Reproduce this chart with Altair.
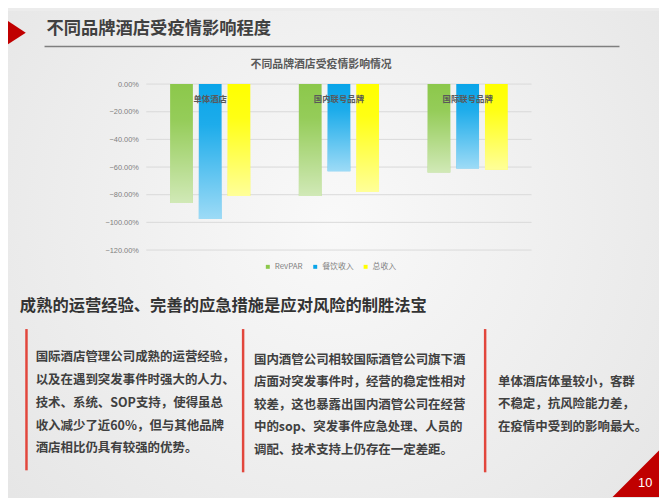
import altair as alt
import pandas as pd

# ---------------- data ----------------
groups = ["单体酒店", "国内联号品牌", "国际联号品牌"]
series = ["RevPAR", "餐饮收入", "总收入"]
revpar = [-0.86, -0.81, -0.64]
food = [-0.975, -0.63, -0.61]
total = [-0.81, -0.78, -0.62]
y_ticks = [0, -0.2, -0.4, -0.6, -0.8, -1.0, -1.2]
colors = ["#8cc84b", "#0aa5e9", "#ffff00"]

slide_title = "不同品牌酒店受疫情影响程度"
chart_title = "不同品牌酒店受疫情影响情况"
heading = "成熟的运营经验、完善的应急措施是应对风险的制胜法宝"
col1 = ["国际酒店管理公司成熟的运营经验，", "以及在遇到突发事件时强大的人力、",
        "技术、系统、SOP支持，使得虽总", "收入减少了近60%，但与其他品牌",
        "酒店相比仍具有较强的优势。"]
col2 = ["国内酒管公司相较国际酒管公司旗下酒", "店面对突发事件时，经营的稳定性相对",
        "较差，这也暴露出国内酒管公司在经营", "中的sop、突发事件应急处理、人员的",
        "调配、技术支持上仍存在一定差距。"]
col3 = ["单体酒店体量较小，客群", "不稳定，抗风险能力差，", "在疫情中受到的影响最大。"]
page_no = "10"

rows = []
for i, g in enumerate(groups):
    for s, vals in zip(series, [revpar, food, total]):
        rows.append({"group": g, "series": s, "value": vals[i]})
df = pd.DataFrame(rows)
grid_df = pd.DataFrame({"value": y_ticks})
grp_df = pd.DataFrame({"group": groups})
one = pd.DataFrame({"k": [0]})

CJK = "Noto Sans CJK SC"
W, H = 390, 168

# ---------------- layers ----------------
bg = alt.Chart(one).mark_rect(
    fill=alt.RadialGradient(
        gradient="radial",
        stops=[alt.GradientStop(color="#f9f9f9", offset=0),
               alt.GradientStop(color="#e3e3e3", offset=1)],
        x1=0.5, y1=0.45, x2=0.5, y2=0.45, r1=0, r2=0.75)
).encode(x=alt.value(-140), x2=alt.value(519), y=alt.value(-74), y2=alt.value(420))

yscale = alt.Scale(domain=[-1.2, 0], nice=False)
yaxis = alt.Axis(values=y_ticks, format=".2%", title=None, grid=False,
                 domain=False, ticks=False, tickSize=0, labelPadding=8,
                 labelFontSize=7.5, labelColor="#7f7f7f",
                 labelOverlap=False, labelFlush=False,
                 labelFont="Liberation Sans", zindex=1)
yenc = alt.Y("value:Q", scale=yscale, stack=None, axis=yaxis, title=None)

grid = alt.Chart(grid_df).mark_rule(color="#d9d9d9", strokeWidth=1).encode(
    y=yenc, x=alt.value(0), x2=alt.value(W))

xenc = alt.X("group:N", scale=alt.Scale(domain=groups, paddingInner=0.377, paddingOuter=0.185),
             axis=None)
xoff = alt.XOffset("series:N", scale=alt.Scale(domain=series, paddingInner=0.207, paddingOuter=0))

bars = alt.Chart(df).mark_bar().encode(
    x=xenc, xOffset=xoff, y=yenc,
    color=alt.Color("series:N", scale=alt.Scale(domain=series, range=colors),
                    legend=alt.Legend(orient="none", legendX=119, legendY=181,
                                      direction="horizontal", title=None,
                                      symbolType="square", symbolSize=16,
                                      symbolStrokeWidth=0,
                                      labelFontSize=8, labelColor="#7f7f7f",
                                      labelFont=CJK, labelOffset=3,
                                      columnPadding=8, padding=0, zindex=1)))

overlay = alt.Chart(df).mark_bar(
    color=alt.LinearGradient(
        gradient="linear",
        stops=[alt.GradientStop(color="rgba(255,255,255,0)", offset=0),
               alt.GradientStop(color="rgba(255,255,255,0.08)", offset=0.3),
               alt.GradientStop(color="rgba(255,255,255,0.6)", offset=1)],
        x1=0, x2=0, y1=0, y2=1)
).encode(x=xenc, xOffset=xoff, y=yenc)

cat_labels = alt.Chart(grp_df).mark_text(
    font=CJK, fontSize=8.5, fontWeight="bold", color="#595959", baseline="middle"
).encode(x=xenc, y=alt.value(15.4), text="group:N")


def txt(text, x, y, size, color="#404040", weight="bold", align="left",
        baseline="middle", font=CJK, lh=None):
    kw = dict(text=text, font=font, fontSize=size, fontWeight=weight, color=color,
              align=align, baseline=baseline)
    if lh is not None:
        kw["lineHeight"] = lh
    return alt.Chart(one).mark_text(**kw).encode(x=alt.value(x), y=alt.value(y))


def vrule(x, y1, y2, color, width):
    return alt.Chart(one).mark_rule(color=color, strokeWidth=width).encode(
        x=alt.value(x), y=alt.value(y1), y2=alt.value(y2))


title_t = txt(slide_title, -101, -55.6, 17.5)
title_line = alt.Chart(one).mark_rule(color="#7f7f7f", strokeWidth=1.5).encode(
    x=alt.value(-103), x2=alt.value(479), y=alt.value(-38))
left_tri = alt.Chart(one).mark_point(
    shape="M-0.767,-1L0.767,0L-0.767,1Z", size=900, filled=True,
    color="#c00000", opacity=1, strokeWidth=0
).encode(x=alt.value(-133.5), y=alt.value(-52))
chart_t = txt(chart_title, 177, -19.4, 11, color="#595959", align="center")
heading_t = txt(heading, -128, 224.8, 16.5, color="#333333")

red = "#e2463c"
r1 = vrule(-121.3, 248, 391, red, 2.5)
r2 = vrule(98, 248, 393, red, 2.5)
r3 = vrule(343, 248, 393, red, 2.5)
p1 = txt(col1, -112, 270.8, 12.6, baseline="top", lh=23)
p2 = txt(col2, 109, 273.3, 12.6, baseline="top", lh=22.8)
p3 = txt(col3, 356, 295.5, 12.6, baseline="top", lh=22.8)

br_tri = alt.Chart(one).mark_point(
    shape="M-1,1L1,-1L1,1Z", size=2209, filled=True, color="#c00000",
    opacity=1, strokeWidth=0
).encode(x=alt.value(495.5), y=alt.value(394.5))
page_t = txt(page_no, 505, 404, 13, color="#ffffff", weight="normal",
             align="center", font="Liberation Sans")

chart = alt.layer(
    bg, grid, bars, overlay, cat_labels, title_t, title_line, left_tri, chart_t,
    heading_t, r1, r2, r3, p1, p2, p3, br_tri, page_t
).properties(
    width=W, height=H,
    autosize=alt.AutoSizeParams(type="none"),
    padding={"left": 140, "top": 74, "right": 129, "bottom": 248},
).configure(background="#ececec").configure_view(stroke=None).configure_axis(
    labelOverlap=False)

chart.save("out.html", embed_options={"renderer": "svg", "actions": False})
